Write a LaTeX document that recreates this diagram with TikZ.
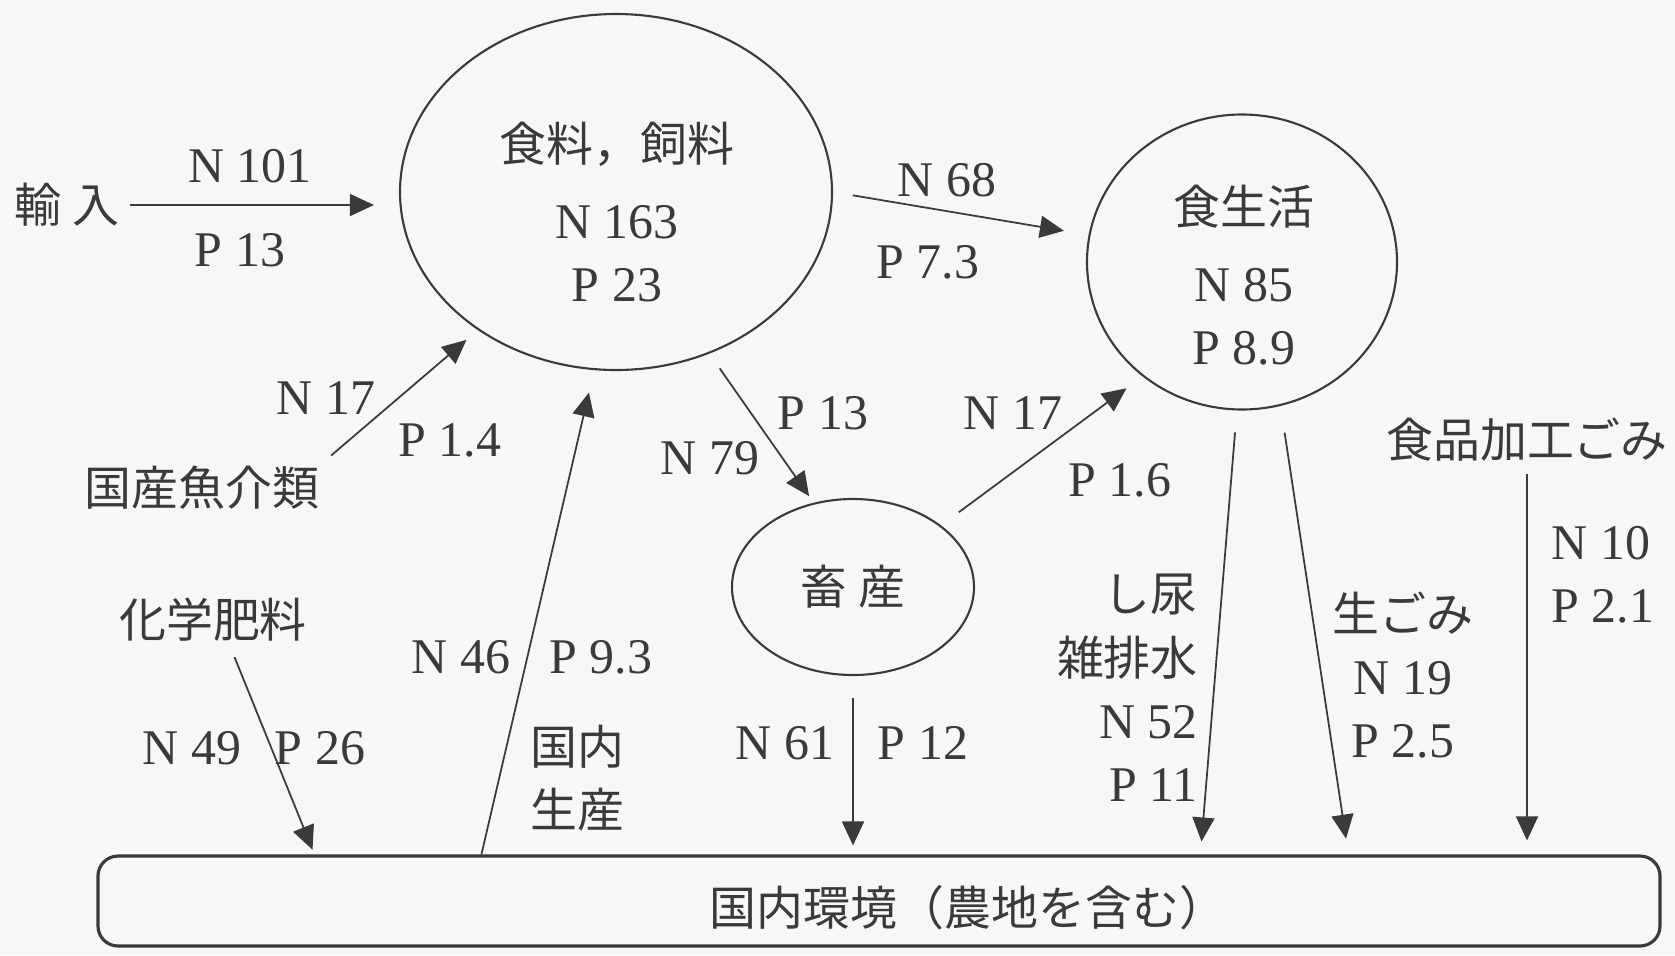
\documentclass[tikz,border=0pt]{standalone}
\usepackage{fontspec}
\setmainfont{Liberation Serif}
\newfontfamily\jp{Noto Sans CJK JP}[Scale=0.94]
\usepackage{xcolor}
\usetikzlibrary{arrows.meta, positioning, shapes.geometric}
\definecolor{ink}{HTML}{3A3A3A}
\definecolor{paper}{HTML}{F7F7F5}

\begin{document}
\begin{tikzpicture}[
font=\fontsize{14.2}{18}\selectfont,
oval/.style={draw=ink, ellipse, line width=0.6pt, inner sep=0pt},
lbl/.style={text=ink, align=center, inner sep=1pt},
arrow/.style={-{Triangle[length=0.24cm, width=0.22cm]}, draw=ink, line width=0.5pt},
envbox/.style={draw=ink, rounded corners=0.2cm, line width=0.9pt,
minimum width=15.62cm, minimum height=0.9cm}
]

\useasboundingbox (0,0) rectangle (16.75,-9.55);
\fill[paper] (0,0) rectangle (16.75,-9.55);

% pools
\node[oval, minimum width=4.32cm, minimum height=3.56cm] (food) at (6.16,-1.92) {};
\node[lbl] (foodtxt) at (6.17,-2.12) {{\jp 食料，飼料}\\[4pt]N 163\\P 23};
\node[oval, minimum width=3.10cm, minimum height=2.95cm] (life) at (12.42,-2.62) {};
\node[lbl] (lifetxt) at (12.44,-2.75) {{\jp 食生活}\\[4pt]N 85\\P 8.9};
\node[oval, minimum width=2.42cm, minimum height=1.76cm, text=ink] (stock) at (8.53,-5.87) {\jp 畜 産};
\node[envbox] (env) at (8.79,-9.01) {};
\node[lbl] (envtxt) at (9.68,-9.08) {\jp 国内環境（農地を含む）};

% sources
\node[lbl] (imp) at (0.67,-2.05) {\jp 輸 入};
\node[lbl] (fish) at (2.02,-4.88) {\jp 国産魚介類};
\node[lbl] (fert) at (2.13,-6.20) {\jp 化学肥料};
\node[lbl] (proc) at (15.27,-4.40) {\jp 食品加工ごみ};

% flows
\draw[arrow, shorten <=0.07cm, shorten >=0.25cm] (imp.east) -- (imp.east -| food.west);
\draw[arrow, shorten <=0.1cm, shorten >=0.15cm] (fish.north east) -- (food.225);
\draw[arrow, shorten <=0.2cm, shorten >=0.25cm] (food.0) -- (life.170);
\draw[arrow, shorten <=0.18cm, shorten >=0.08cm] (food.300) -- (stock.115);
\draw[arrow, shorten <=0.22cm, shorten >=0.2cm] (stock.35) -- (life.229);
\draw[arrow, shorten <=0.22cm, shorten >=0.09cm] (stock.south) -- (stock.south |- env.north);
\draw[arrow, shorten <=0.12cm, shorten >=0.05cm] ([xshift=0.17cm]fert.south) -- ([xshift=2.18cm]env.north west);
\draw[arrow, shorten >=0.23cm] ([xshift=3.85cm]env.north west) -- (food.263);
\draw[arrow, shorten <=0.22cm, shorten >=0.13cm] (life.268) -- ([xshift=11.04cm]env.north west);
\draw[arrow, shorten <=0.27cm, shorten >=0.16cm] (life.285) -- ([xshift=12.52cm]env.north west);
\draw[arrow, shorten <=0.08cm, shorten >=0.14cm] (proc.south) -- (proc.south |- env.north);

% amounts
\node[lbl] (n101) at (2.50,-1.66) {N 101};
\node[lbl] (p13a) at (2.40,-2.50) {P 13};
\node[lbl] (n17a) at (3.26,-3.98) {N 17};
\node[lbl] (p14) at (4.50,-4.40) {P 1.4};
\node[lbl] (n68) at (9.47,-1.80) {N 68};
\node[lbl] (p73) at (9.28,-2.62) {P 7.3};
\node[lbl] (p13b) at (8.23,-4.13) {P 13};
\node[lbl] (n79) at (7.10,-4.58) {N 79};
\node[lbl] (n17b) at (10.13,-4.13) {N 17};
\node[lbl] (p16) at (11.20,-4.80) {P 1.6};
\node[lbl] (n61) at (7.85,-7.43) {N 61};
\node[lbl] (p12) at (9.23,-7.43) {P 12};
\node[lbl] (n46) at (4.61,-6.57) {N 46};
\node[lbl] (p93) at (6.01,-6.57) {P 9.3};
\node[lbl] (dom) at (5.77,-7.78) {\jp 国内\\\jp 生産};
\node[lbl] (n49) at (1.92,-7.48) {N 49};
\node[lbl] (p26) at (3.20,-7.48) {P 26};
\node[lbl, align=right, anchor=east] (soil) at (12.02,-6.88) {{\jp し尿}\\{\jp 雑排水}\\N 52\\P 11};
\node[lbl] (garb) at (14.03,-6.75) {{\jp 生ごみ}\\N 19\\P 2.5};
\node[lbl, align=left] (n10) at (16.03,-5.75) {N 10\\P 2.1};

\end{tikzpicture}
\end{document}
